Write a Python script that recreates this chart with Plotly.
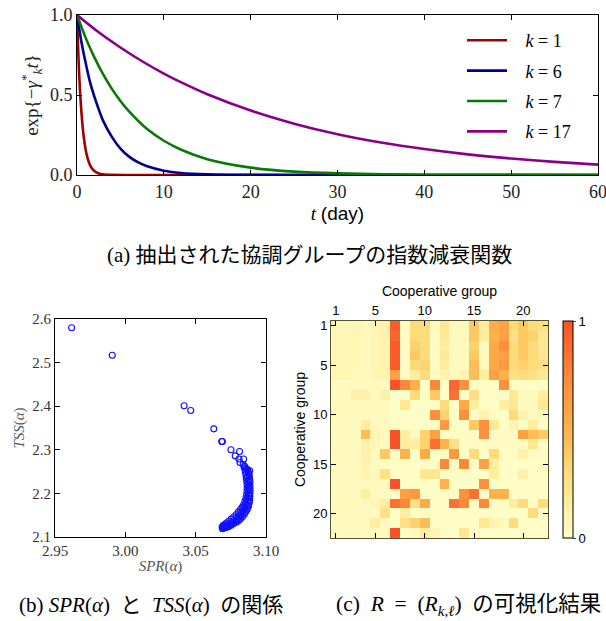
import plotly.graph_objects as go

W, H = 606, 621

# ---------------- panel (a) data: decay curves ----------------
t_k1 = [0, 0.25, 0.5, 0.75, 1.0, 1.25, 1.5, 1.75, 2.0, 2.5, 3.0, 4.0, 6.0, 10, 60]
y_k1 = [1.0, 0.63, 0.40, 0.25, 0.157, 0.099, 0.062, 0.039, 0.025, 0.0098, 0.0039, 0.0006, 0, 0, 0]
t_k6 = [0, 0.5, 1, 1.5, 2, 3, 4, 5, 6, 7, 8, 10, 12, 15, 20, 30, 60]
y_k6 = [1.0, 0.835, 0.70, 0.58, 0.49, 0.34, 0.24, 0.165, 0.115, 0.08, 0.056, 0.027, 0.013, 0.0045, 0.0007, 0, 0]
t_k7 = [0, 1, 2, 3, 4, 5, 6, 8, 10, 12, 15, 20, 25, 30, 40, 50, 60]
y_k7 = [1.0, 0.857, 0.735, 0.63, 0.54, 0.463, 0.397, 0.29, 0.214, 0.158, 0.099, 0.046, 0.021, 0.0099, 0.002, 0.0005, 0.0001]
t_k17 = [0, 2.5, 5, 7.5, 10, 12.5, 15, 20, 25, 30, 35, 40, 45, 50, 55, 60]
y_k17 = [1.0, 0.892, 0.797, 0.711, 0.634, 0.566, 0.505, 0.403, 0.321, 0.255, 0.203, 0.162, 0.129, 0.103, 0.082, 0.065]
curve_labels = ["1", "6", "7", "17"]
curve_colors = ["#a00000", "#00008f", "#087808", "#880088"]

# ---------------- panel (b) data: SPR vs TSS ----------------
spr = [2.9618, 2.9907, 3.0418, 3.0465, 3.0629, 3.0685, 3.0690, 3.0751, 3.0782, 3.0812,
       3.0808, 3.0841, 3.0815, 3.0884, 3.0838, 3.0848, 3.0855, 3.0862, 3.0845,
       3.0870, 3.0876, 3.0879, 3.0882, 3.0884, 3.0886, 3.0886, 3.0887, 3.0886, 3.0885,
       3.0884, 3.0880, 3.0875, 3.0867, 3.0858, 3.0847, 3.0834, 3.0820, 3.0806, 3.0790,
       3.0770, 3.0752, 3.0735, 3.0718, 3.0704, 3.0695,
       3.0853, 3.0857, 3.0860, 3.0863, 3.0865, 3.0866, 3.0865, 3.0862, 3.0857, 3.0850,
       3.0841, 3.0830, 3.0818, 3.0803, 3.0787, 3.0770, 3.0752, 3.0735, 3.0718, 3.0705, 3.0695,
       3.0868, 3.0874, 3.0876, 3.0877, 3.0877, 3.0875, 3.0872, 3.0866, 3.0858, 3.0848,
       3.0836, 3.0822, 3.0806, 3.0790, 3.0772, 3.0755, 3.0738, 3.0720, 3.0705,
       3.0690, 3.0688, 3.0880, 3.0881, 3.0870, 3.0852, 3.0840, 3.0826, 3.0812, 3.0797,
       3.0780, 3.0762, 3.0745, 3.0728, 3.0712]
tss = [2.580, 2.517, 2.401, 2.390, 2.348, 2.319, 2.319, 2.300, 2.286, 2.296,
       2.279, 2.279, 2.271, 2.252, 2.266, 2.262, 2.258, 2.255, 2.259,
       2.254, 2.247, 2.243, 2.238, 2.231, 2.225, 2.216, 2.208, 2.201, 2.193,
       2.186, 2.178, 2.170, 2.164, 2.159, 2.153, 2.147, 2.142, 2.138, 2.134,
       2.131, 2.127, 2.124, 2.122, 2.121, 2.122,
       2.250, 2.243, 2.235, 2.228, 2.220, 2.212, 2.205, 2.197, 2.189, 2.182,
       2.174, 2.168, 2.163, 2.157, 2.151, 2.146, 2.141, 2.136, 2.132, 2.128, 2.126,
       2.240, 2.230, 2.222, 2.214, 2.206, 2.198, 2.190, 2.182, 2.175, 2.168,
       2.161, 2.155, 2.149, 2.143, 2.138, 2.134, 2.130, 2.127, 2.124,
       2.119, 2.123, 2.182, 2.195, 2.172, 2.165, 2.158, 2.152, 2.146, 2.140,
       2.136, 2.132, 2.128, 2.125, 2.123]

# ---------------- panel (c) data: R matrix ----------------
groups = list(range(1, 23))
R_rows = [
    [0.08,0.08,0.08,0.05,0.08,0.10,0.95,0.03,0.30,0.30,0.03,0.20,0.05,0.05,0.40,0.15,0.55,0.60,0.30,0.40,0.30,0.25],
    [0.08,0.08,0.08,0.05,0.08,0.10,0.90,0.03,0.30,0.30,0.03,0.20,0.05,0.05,0.40,0.15,0.50,0.60,0.25,0.40,0.35,0.20],
    [0.08,0.08,0.08,0.05,0.08,0.10,0.95,0.03,0.35,0.30,0.03,0.15,0.05,0.05,0.35,0.05,0.55,0.70,0.30,0.40,0.30,0.20],
    [0.08,0.08,0.08,0.05,0.08,0.10,0.95,0.03,0.40,0.30,0.03,0.20,0.05,0.05,0.40,0.05,0.55,0.60,0.30,0.40,0.30,0.20],
    [0.08,0.08,0.08,0.05,0.08,0.10,0.95,0.03,0.30,0.35,0.03,0.15,0.05,0.05,0.45,0.05,0.55,0.65,0.30,0.35,0.30,0.25],
    [0.08,0.08,0.06,0.05,0.08,0.10,0.60,0.03,0.15,0.30,0.03,0.10,0.05,0.10,0.45,0.15,0.60,0.50,0.25,0.30,0.25,0.20],
    [0.05,0.05,0.05,0.05,0.05,0.03,1.00,0.75,0.50,0.02,0.75,0.02,0.90,0.70,0.02,0.02,0.02,0.70,0.02,0.02,0.02,0.02],
    [0.05,0.05,0.12,0.12,0.05,0.12,0.02,0.02,0.30,0.02,0.40,0.02,0.85,0.02,0.25,0.02,0.02,0.02,0.20,0.05,0.05,0.15],
    [0.05,0.05,0.05,0.05,0.05,0.05,0.02,0.20,0.02,0.02,0.02,0.30,0.02,0.55,0.15,0.02,0.02,0.15,0.20,0.05,0.05,0.20],
    [0.05,0.05,0.05,0.05,0.05,0.05,0.02,0.02,0.02,0.02,0.70,0.35,0.02,0.70,0.02,0.10,0.02,0.02,0.30,0.10,0.05,0.05],
    [0.05,0.05,0.05,0.15,0.05,0.05,0.02,0.02,0.02,0.02,0.02,0.65,0.02,0.02,0.40,0.70,0.20,0.02,0.10,0.02,0.15,0.02],
    [0.05,0.05,0.05,0.45,0.08,0.05,1.00,0.15,0.05,0.35,0.60,0.03,0.03,0.03,0.03,0.70,0.03,0.03,0.03,0.60,0.45,0.40],
    [0.05,0.05,0.05,0.12,0.08,0.05,1.00,0.15,0.15,0.35,0.85,0.50,0.25,0.03,0.03,0.03,0.03,0.03,0.03,0.03,0.20,0.03],
    [0.05,0.05,0.05,0.12,0.05,0.40,0.02,0.50,0.02,0.55,0.02,0.02,0.65,0.02,0.30,0.02,0.30,0.02,0.02,0.12,0.03,0.03],
    [0.05,0.05,0.05,0.10,0.05,0.02,0.02,0.02,0.02,0.02,0.02,0.75,0.02,0.75,0.02,0.60,0.15,0.02,0.02,0.02,0.02,0.02],
    [0.05,0.05,0.05,0.10,0.05,0.25,0.02,0.02,0.02,0.20,0.20,0.02,0.02,0.02,0.02,0.02,0.15,0.02,0.02,0.12,0.02,0.02],
    [0.05,0.05,0.05,0.05,0.05,0.05,1.00,0.02,0.02,0.02,0.02,0.50,0.02,0.02,0.02,0.70,0.02,0.02,0.02,0.02,0.02,0.02],
    [0.05,0.05,0.05,0.15,0.05,0.03,0.03,0.60,0.65,0.02,0.02,0.02,0.02,0.70,0.85,0.02,0.50,0.50,0.02,0.02,0.02,0.02],
    [0.05,0.05,0.05,0.05,0.08,0.15,0.85,0.75,0.25,0.55,0.02,0.02,0.85,0.75,0.02,0.75,0.02,0.02,0.15,0.30,0.02,0.30],
    [0.05,0.05,0.05,0.05,0.05,0.25,0.02,0.15,0.02,0.02,0.02,0.02,0.02,0.02,0.02,0.02,0.02,0.02,0.02,0.02,0.30,0.02],
    [0.05,0.05,0.05,0.05,0.15,0.05,0.02,0.25,0.35,0.45,0.02,0.02,0.02,0.02,0.02,0.20,0.10,0.05,0.30,0.02,0.02,0.02],
    [0.05,0.05,0.05,0.05,0.05,0.05,1.00,0.02,0.05,0.15,0.08,0.03,0.02,0.20,0.02,0.02,0.02,0.02,0.02,0.02,0.02,0.02],
]

SERIF = "Liberation Serif, DejaVu Serif, serif"
SANS = "Liberation Sans, Arial, sans-serif"
CAP = "Liberation Serif, Noto Sans CJK JP, serif"


def px_x(a, b):
    return [a / W, b / W]


def px_y(top, bottom):
    return [1 - bottom / H, 1 - top / H]


fig = go.Figure()

# panel (a)
for tt, yy, lab, col in zip([t_k1, t_k6, t_k7, t_k17], [y_k1, y_k6, y_k7, y_k17],
                            curve_labels, curve_colors):
    fig.add_trace(go.Scatter(x=tt, y=yy, mode="lines", line=dict(color=col, width=2.6, shape="spline", smoothing=0.8),
                             name="   <i>k</i> = " + lab, legendgroup=lab,
                             xaxis="x", yaxis="y"))

# panel (b)
fig.add_trace(go.Scatter(x=spr, y=tss, mode="markers", showlegend=False,
                         marker=dict(symbol="circle-open", size=6, color="#1010ff", line=dict(width=1.1, color="#1010ff")),
                         xaxis="x2", yaxis="y2"))

# panel (c)
cscale = [[0.0, "#ffffcc"], [0.15, "#ffeda0"], [0.32, "#fed976"], [0.5, "#feb24c"], [0.72, "#fd8d3c"], [1.0, "#f9512a"]]
fig.add_trace(go.Heatmap(z=R_rows, x=groups, y=groups, zmin=0, zmax=1, colorscale=cscale,
                         xaxis="x3", yaxis="y3",
                         colorbar=dict(x=563 / W, xanchor="left", y=1 - 538 / H, yanchor="bottom",
                                       len=217 / H, lenmode="fraction", thickness=10, thicknessmode="pixels",
                                       outlinecolor="black", outlinewidth=1, xpad=0, ypad=0,
                                       tickvals=[0, 1], ticktext=["0", "1"], ticks="outside", ticklen=3,
                                       tickfont=dict(family=SANS, size=13, color="black"))))

ax_common = dict(showline=True, linecolor="black", linewidth=1, mirror="allticks", ticks="inside",
                 ticklen=5, tickcolor="black", showgrid=False, zeroline=False, automargin=False,
                 ticklabeloverflow="allow")

fig.update_layout(
    width=W, height=H, margin=dict(l=0, r=0, t=0, b=0, pad=0, autoexpand=False),
    paper_bgcolor="white", plot_bgcolor="white",
    showlegend=True,
    legend=dict(x=462 / W, y=1 - 22 / H, xanchor="left", yanchor="top",
                font=dict(family=SERIF, size=18, color="black"), bgcolor="rgba(0,0,0,0)",
                tracegroupgap=4, itemwidth=40),
    xaxis=dict(domain=px_x(77, 598), range=[0, 60], tickvals=[0, 10, 20, 30, 40, 50, 60],
               tickfont=dict(family=SERIF, size=18, color="#222222"),
               title=dict(text="<i>t</i> <span style='font-family:Liberation Sans'>(day)</span>",
                          font=dict(family=SERIF, size=19, color="black"), standoff=6),
               anchor="y", **ax_common),
    yaxis=dict(domain=px_y(15, 175), range=[0, 1], tickvals=[0, 0.5, 1.0], ticktext=["0.0", "0.5", "1.0"],
               tickfont=dict(family=SERIF, size=18, color="#222222"),
               title=dict(text="exp{−<i>γ</i><sup>*</sup><sub><i>k</i></sub><i>t</i>}",
                          font=dict(family=SERIF, size=19, color="#222222"), standoff=6),
               anchor="x", **ax_common),
    xaxis2=dict(domain=px_x(55, 266), range=[2.95, 3.10], tickvals=[2.95, 3.0, 3.05, 3.10],
                ticktext=["2.95", "3.00", "3.05", "3.10"],
                tickfont=dict(family=SERIF, size=15, color="#333333"),
                title=dict(text="<i>SPR</i>(<i>α</i>)", font=dict(family=SERIF, size=15, color="#555555"), standoff=2),
                anchor="y2", **ax_common),
    yaxis2=dict(domain=px_y(319, 537), range=[2.1, 2.6], tickvals=[2.1, 2.2, 2.3, 2.4, 2.5, 2.6],
                ticktext=["2.1", "2.2", "2.3", "2.4", "2.5", "2.6"],
                tickfont=dict(family=SERIF, size=15, color="#333333"),
                title=dict(text="<i>TSS</i>(<i>α</i>)", font=dict(family=SERIF, size=15, color="#555555"), standoff=4),
                anchor="x2", **ax_common),
    xaxis3=dict(domain=px_x(331, 548), range=[0.5, 22.5], tickvals=[1, 5, 10, 15, 20], side="top",
                tickfont=dict(family=SANS, size=13, color="black"),
                title=dict(text="Cooperative group", font=dict(family=SANS, size=14, color="black"), standoff=2),
                anchor="y3", **ax_common),
    yaxis3=dict(domain=px_y(321, 538), range=[22.5, 0.5], tickvals=[1, 5, 10, 15, 20],
                tickfont=dict(family=SANS, size=13, color="black"),
                title=dict(text="Cooperative group", font=dict(family=SANS, size=14, color="black"), standoff=4),
                anchor="x3", **ax_common),
)
fig.update_layout(xaxis3_linecolor="#555533", yaxis3_linecolor="#555533")

fig.add_annotation(text="(a) 抽出された協調グループの指数減衰関数", x=309 / W, y=1 - 255 / H,
                   xref="paper", yref="paper", xanchor="center", yanchor="middle", showarrow=False,
                   font=dict(family=CAP, size=21, color="black"))
fig.add_annotation(text="(b) <i>SPR</i>(<i>α</i>)  と  <i>TSS</i>(<i>α</i>)  の関係", x=151 / W, y=1 - 605 / H,
                   xref="paper", yref="paper", xanchor="center", yanchor="middle", showarrow=False,
                   font=dict(family=CAP, size=21, color="black"))
fig.add_annotation(text="(c)  <i>R</i>  =  (<i>R</i><sub><i>k</i>,<i>ℓ</i></sub>)  の可視化結果", x=468 / W, y=1 - 605 / H,
                   xref="paper", yref="paper", xanchor="center", yanchor="middle", showarrow=False,
                   font=dict(family=CAP, size=21.5, color="black"))

fig.write_html("out.html", config={"displayModeBar": False},
               post_script="document.body.style.margin='0';document.body.style.padding='0';")
